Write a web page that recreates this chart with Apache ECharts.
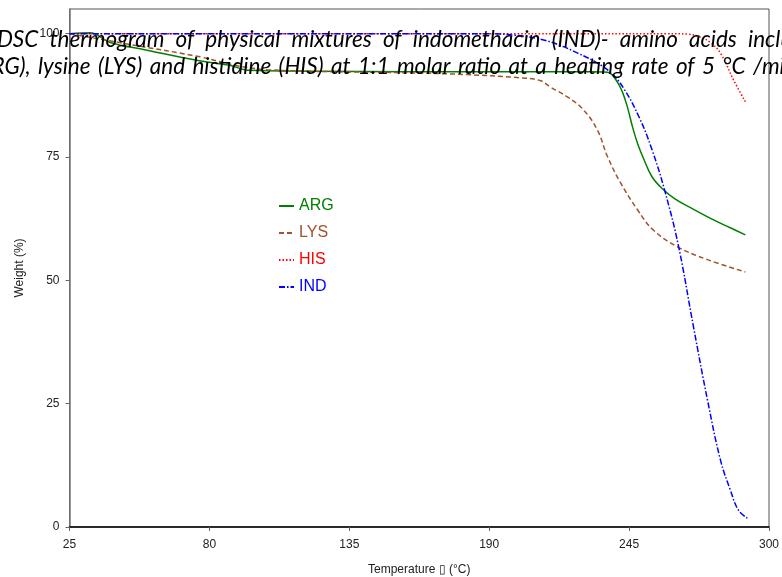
<!DOCTYPE html>
<html>
<head>
<meta charset="utf-8">
<script src="https://cdn.jsdelivr.net/npm/echarts@6/dist/echarts.min.js"></script>
<style>html,body{margin:0;padding:0;background:#fff;}#c{width:782px;height:577px;}</style>
</head>
<body>
<div id="c"></div>
<script>
// ---- data ----
const seriesNames = ['ARG', 'LYS', 'HIS', 'IND'];
const xTicks = [25, 80, 135, 190, 245, 300];
const yTicks = [0, 25, 50, 75, 100];

const tArg = [25, 33, 41, 55, 76, 88, 95, 120, 160, 200, 230, 236.5, 240, 242.5, 244.5, 246.5, 248.5, 251, 254, 258, 263, 270, 278, 285, 290.7];
const wArg = [100, 100.2, 98.2, 96.7, 94.5, 93.6, 92.6, 92.4, 92.3, 92.3, 92.3, 92.2, 90.5, 88, 84.8, 80.8, 77.5, 74.3, 71.0, 68.6, 66.5, 64.5, 62.3, 60.6, 59.2];

const tLys = [25, 50, 76.3, 90, 102.7, 128.7, 155, 181.4, 201, 210, 214, 220.7, 227, 232.5, 236.5, 241.6, 248.3, 254.5, 264, 275.8, 290.7];
const wLys = [100, 97.7, 95.3, 93.6, 92.7, 92.3, 92.1, 91.7, 91.1, 90.5, 89.2, 87.2, 84.6, 80.5, 75.1, 69.8, 64.3, 60.2, 56.8, 54.2, 51.7];

const tHis = [25, 100, 200, 260, 268, 273, 277, 281, 286, 290.7];
const wHis = [100, 100, 100, 100, 99.9, 99.3, 98.2, 96.0, 90.7, 86.2];

const tInd = [25, 100, 190, 200, 210, 218, 225, 232, 238, 243, 249, 254, 259, 264.4, 270.3, 275.8, 280.9, 284.8, 288, 291.5];
const wInd = [100, 100, 100, 99.7, 98.9, 97.6, 96.0, 94.2, 92.0, 88.8, 83.0, 76.5, 68.2, 57, 40.6, 25.8, 13.6, 7.5, 3.4, 1.8];

const titleWords1 = ['DSC', 'thermogram', 'of', 'physical', 'mixtures', 'of', 'indomethacin', '(IND)-', 'amino', 'acids', 'including', 'arginine'];
const titleWords2 = ['(ARG),', 'lysine', '(LYS)', 'and', 'histidine', '(HIS)', 'at', '1:1', 'molar', 'ratio', 'at', 'a', 'heating', 'rate', 'of', '5', '°C', '/min'];

// ---- chart ----
const colors = ['#008000', '#A0522D', '#FF0000', '#0000FF'];
const dashes = ['solid', [5, 3], [1.5, 2], [6, 2, 1.5, 2]];
const tList = [tArg, tLys, tHis, tInd];
const wList = [wArg, wLys, wHis, wInd];

// justified title lines (word placement computed from measured widths)
const TITLE_FONT = 'italic 22.5px Lato';
const ctx = document.createElement('canvas').getContext('2d');
ctx.font = TITLE_FONT;
function justify(words, firstIdx, firstX, lastIdx, lastX) {
  const w = words.map(s => ctx.measureText(s).width);
  let sum = 0;
  for (let i = firstIdx; i < lastIdx; i++) sum += w[i];
  const gap = (lastX - firstX - sum) / (lastIdx - firstIdx);
  const xs = new Array(words.length);
  xs[firstIdx] = firstX;
  for (let i = firstIdx + 1; i < words.length; i++) xs[i] = xs[i - 1] + w[i - 1] + gap;
  for (let i = firstIdx - 1; i >= 0; i--) xs[i] = xs[i + 1] - gap - w[i];
  return xs;
}
const xs1 = justify(titleWords1, 0, -3, 10, 748);
const xs2 = justify(titleWords2, 1, 38, 17, 753);
const titleGraphics = [];
titleWords1.forEach((s, i) => titleGraphics.push({type: 'text', x: xs1[i], y: 40, z: 100, silent: true,
  style: {text: s, font: TITLE_FONT, fill: '#000', verticalAlign: 'middle', align: 'left'}}));
titleWords2.forEach((s, i) => titleGraphics.push({type: 'text', x: xs2[i], y: 67, z: 100, silent: true,
  style: {text: s, font: TITLE_FONT, fill: '#000', verticalAlign: 'middle', align: 'left'}}));

const chart = echarts.init(document.getElementById('c'), null, {renderer: 'canvas'});
const series = seriesNames.map((n, i) => ({
  name: n,
  type: 'line',
  data: tList[i].map((t, j) => [t, wList[i][j]]),
  showSymbol: false,
  symbol: 'none',
  smooth: 0.4,
  lineStyle: {color: colors[i], width: 1.5, type: dashes[i]},
  itemStyle: {color: colors[i]},
  z: 2 + i
}));

chart.setOption({
  animation: false,
  backgroundColor: '#fff',
  grid: {left: 69.5, right: 13, top: 9, bottom: 50, show: true, borderColor: '#555', borderWidth: 1,
         outerBoundsMode: 'none', containLabel: false},
  xAxis: {
    type: 'value', min: 25, max: 300, interval: 55,
    name: 'Temperature \u25AF (°C)', nameLocation: 'middle', nameGap: 37,
    nameTextStyle: {fontFamily: 'Liberation Sans', fontSize: 12, color: '#222'},
    axisLine: {show: true, onZero: false, lineStyle: {color: '#000', width: 1.5}},
    axisTick: {show: true, length: 4, lineStyle: {color: '#666'}},
    axisLabel: {fontFamily: 'Liberation Sans', fontSize: 12, color: '#222', margin: 12},
    splitLine: {show: false}
  },
  yAxis: {
    type: 'value', min: 0, max: 105,
    name: 'Weight (%)', nameLocation: 'middle', nameGap: 44,
    nameTextStyle: {fontFamily: 'Liberation Sans', fontSize: 12, color: '#222'},
    axisLine: {show: true, lineStyle: {color: '#777', width: 1.5}},
    axisTick: {show: true, length: 4, customValues: yTicks, lineStyle: {color: '#666'}},
    axisLabel: {fontFamily: 'Liberation Sans', fontSize: 12, color: '#222', margin: 10, customValues: yTicks},
    splitLine: {show: false}
  },
  legend: {
    orient: 'vertical', left: 278, top: 198, padding: 0,
    itemWidth: 15, itemHeight: 14, itemGap: 11,
    itemStyle: {opacity: 0},
    textStyle: {fontFamily: 'Liberation Sans', fontSize: 16},
    data: seriesNames.map((n, i) => ({name: n, textStyle: {color: colors[i]}})),
    selectedMode: false
  },
  graphic: titleGraphics,
  series: series
});
</script>
</body>
</html>
